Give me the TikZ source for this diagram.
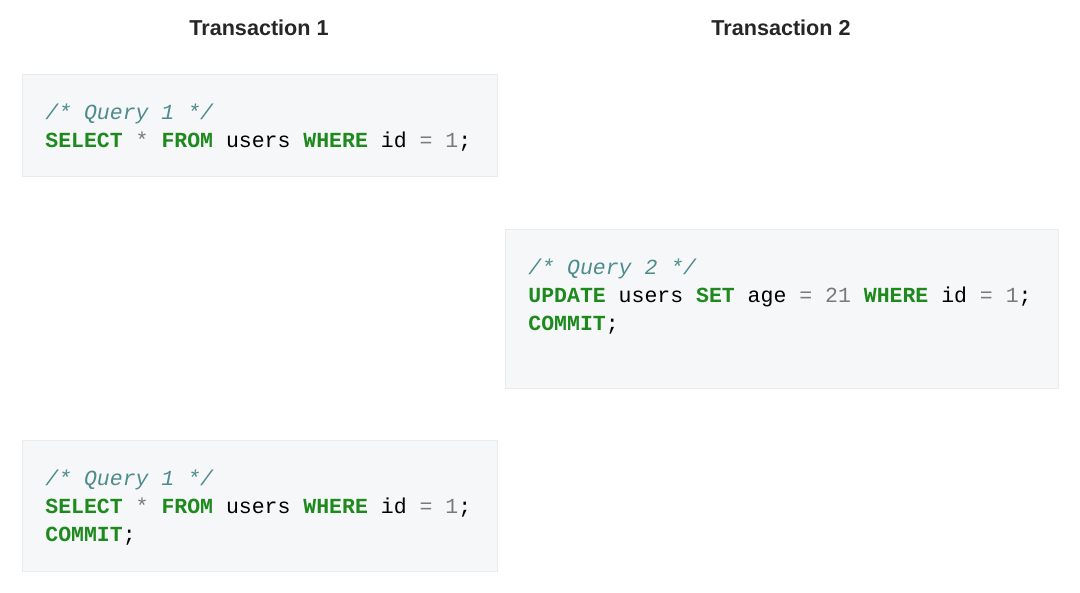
\documentclass[tikz,border=0pt]{standalone}
\usepackage{fontspec}
\setmainfont{Liberation Sans}
\setmonofont{Liberation Mono}
\definecolor{kwgreen}{HTML}{1E8A1E}
\definecolor{cmteal}{HTML}{4E8C8C}
\definecolor{opgray}{HTML}{7A7A7A}
\definecolor{boxfill}{HTML}{F6F7F9}
\definecolor{boxline}{HTML}{EAEBED}
\newcommand{\kw}[1]{\textcolor{kwgreen}{\textbf{#1}}}
\newcommand{\cm}[1]{\textcolor{cmteal}{\textit{#1}}}
\newcommand{\op}[1]{\textcolor{opgray}{#1}}
\tikzset{
    codebox/.style={draw=boxline, fill=boxfill, line width=0.5pt},
    codeline/.style={anchor=base west, inner sep=0pt, font=\ttfamily\fontsize{10.75}{14}\selectfont},
    title/.style={anchor=base, inner sep=0pt, font=\bfseries\fontsize{10.8}{13}\selectfont, text=black!85}
}
\begin{document}
\begin{tikzpicture}[x=0.5pt,y=-0.5pt]
    \useasboundingbox (0,0) rectangle (1080,593);

    % column headings
    \node[title] (t1) at (259,36) {Transaction 1};
    \node[title] (t2) at (781,36) {Transaction 2};

    % transaction 1, first read
    \draw[codebox] (22,75) rectangle (497,177);
    \node[codeline] (a1) at (45,120) {\cm{/* Query 1 */}};
    \node[codeline] (a2) at (45,148) {\kw{SELECT} \op{*} \kw{FROM} users \kw{WHERE} id \op{=} \op{1};};

    % transaction 2, update and commit
    \draw[codebox] (505,229) rectangle (1058,388);
    \node[codeline] (b1) at (528,274) {\cm{/* Query 2 */}};
    \node[codeline] (b2) at (528,302) {\kw{UPDATE} users \kw{SET} age \op{=} \op{21} \kw{WHERE} id \op{=} \op{1};};
    \node[codeline] (b3) at (528,330) {\kw{COMMIT};};

    % transaction 1, second read
    \draw[codebox] (22,440) rectangle (497,571);
    \node[codeline] (c1) at (45,485) {\cm{/* Query 1 */}};
    \node[codeline] (c2) at (45,513) {\kw{SELECT} \op{*} \kw{FROM} users \kw{WHERE} id \op{=} \op{1};};
    \node[codeline] (c3) at (45,541) {\kw{COMMIT};};
\end{tikzpicture}
\end{document}
